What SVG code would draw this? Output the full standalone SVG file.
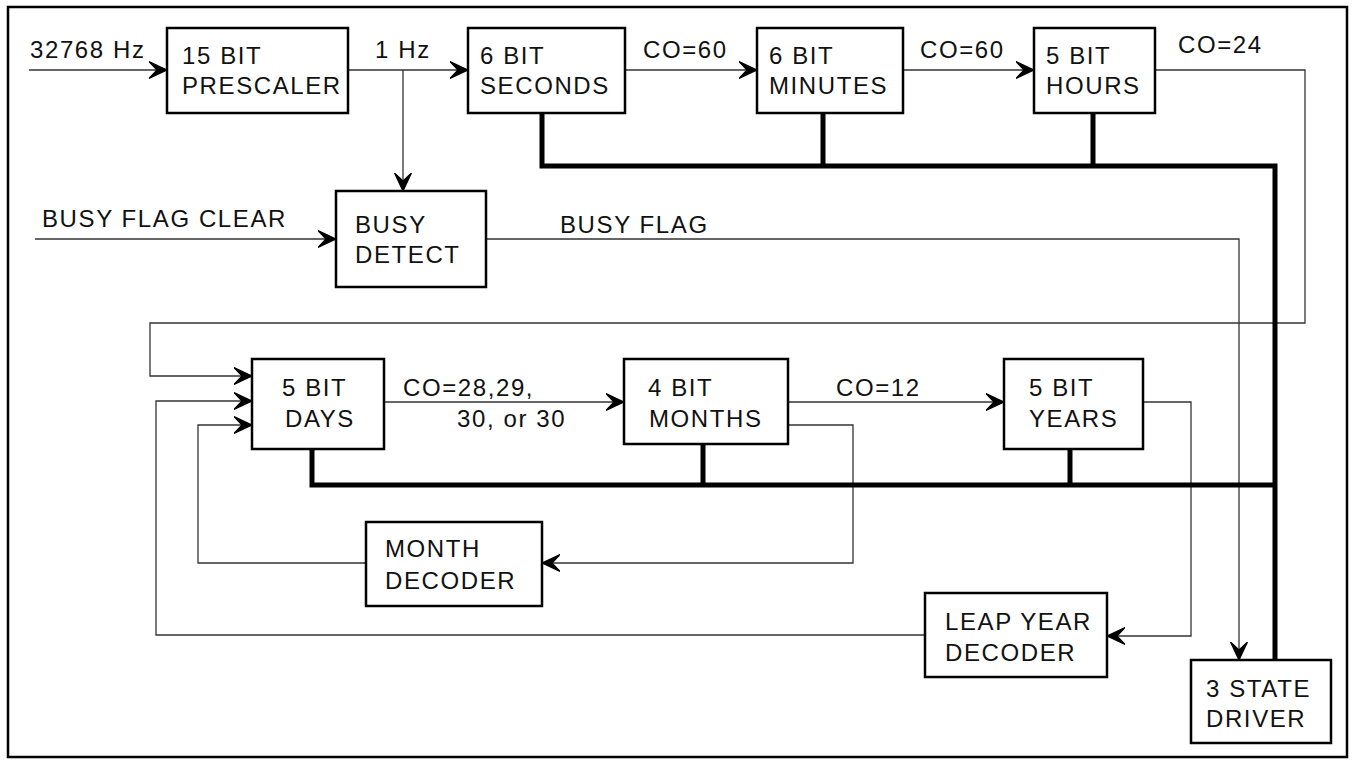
<svg xmlns="http://www.w3.org/2000/svg" width="1354" height="763" viewBox="0 0 1354 763">
<style>
.box{fill:#fff;stroke:#000;stroke-width:2.5}
.t{font-family:"Liberation Sans",Arial,sans-serif;font-size:24px;letter-spacing:1.6px;fill:#111}
.w{fill:none;stroke:#333;stroke-width:1.3}
.bus{fill:none;stroke:#000;stroke-width:5;stroke-linejoin:miter}
</style>
<defs>
<marker id="arr" markerWidth="20" markerHeight="20" markerUnits="userSpaceOnUse" refX="18" refY="10" orient="auto">
<path d="M18,10 L0,1.5 L8,10 L0,18.5 Z" fill="#000" stroke="#000" stroke-width="1.2" stroke-linejoin="miter"/>
</marker>
</defs>
<rect x="0" y="0" width="1354" height="763" fill="#fff"/>
<rect x="8" y="7" width="1339" height="750" fill="none" stroke="#000" stroke-width="2.5"/>

<g id="connectors">
<path class="w" d="M29,70 H167" marker-end="url(#arr)"/>
<path class="w" d="M348,70 H468" marker-end="url(#arr)"/>
<path class="w" d="M403,70 V191" marker-end="url(#arr)"/>
<path class="w" d="M625,70 H757" marker-end="url(#arr)"/>
<path class="w" d="M903,70 H1034" marker-end="url(#arr)"/>
<path class="w" d="M1155,70 H1305 V323 H150 V376 H252" marker-end="url(#arr)"/>
<path class="w" d="M35,239 H336" marker-end="url(#arr)"/>
<path class="w" d="M486,239 H1239 V660" marker-end="url(#arr)"/>
<path class="w" d="M384,402 H624" marker-end="url(#arr)"/>
<path class="w" d="M788,402 H1004" marker-end="url(#arr)"/>
<path class="w" d="M788,425 H853 V563 H542" marker-end="url(#arr)"/>
<path class="w" d="M366,563 H198 V425 H252" marker-end="url(#arr)"/>
<path class="w" d="M1143,402 H1191 V636 H1107" marker-end="url(#arr)"/>
<path class="w" d="M925,635 H156 V401 H252" marker-end="url(#arr)"/>
<path class="bus" d="M542,112 V166 H1275 V660"/>
<path class="bus" d="M823,112 V166"/>
<path class="bus" d="M1093,112 V166"/>
<path class="bus" d="M312,449 V485 H1275"/>
<path class="bus" d="M703,444 V485"/>
<path class="bus" d="M1070,449 V485"/>
</g>

<g id="labels">
<text class="t" x="30" y="58">32768 Hz</text>
<text class="t" x="375" y="58">1 Hz</text>
<text class="t" x="643" y="58">CO=60</text>
<text class="t" x="920" y="58">CO=60</text>
<text class="t" x="1178" y="53">CO=24</text>
<text class="t" x="42" y="227">BUSY FLAG CLEAR</text>
<text class="t" x="560" y="233">BUSY FLAG</text>
<text class="t" x="403" y="396">CO=28,29,</text>
<text class="t" x="457" y="427">30, or 30</text>
<text class="t" x="836" y="396">CO=12</text>
</g>

<g id="prescaler">
<rect class="box" x="167" y="28" width="181" height="85"/>
<text class="t" x="182" y="64">15 BIT</text>
<text class="t" x="182" y="94">PRESCALER</text>
</g>
<g id="seconds">
<rect class="box" x="468" y="28" width="157" height="85"/>
<text class="t" x="480" y="64">6 BIT</text>
<text class="t" x="480" y="94">SECONDS</text>
</g>
<g id="minutes">
<rect class="box" x="757" y="28" width="146" height="85"/>
<text class="t" x="769" y="64">6 BIT</text>
<text class="t" x="769" y="94">MINUTES</text>
</g>
<g id="hours">
<rect class="box" x="1034" y="28" width="121" height="85"/>
<text class="t" x="1046" y="64">5 BIT</text>
<text class="t" x="1046" y="94">HOURS</text>
</g>
<g id="busy-detect">
<rect class="box" x="336" y="191" width="150" height="96"/>
<text class="t" x="355" y="233">BUSY</text>
<text class="t" x="355" y="263">DETECT</text>
</g>
<g id="days">
<rect class="box" x="252" y="359" width="132" height="90"/>
<text class="t" x="282" y="396">5 BIT</text>
<text class="t" x="285" y="427">DAYS</text>
</g>
<g id="months">
<rect class="box" x="624" y="359" width="164" height="85"/>
<text class="t" x="648" y="396">4 BIT</text>
<text class="t" x="649" y="427">MONTHS</text>
</g>
<g id="years">
<rect class="box" x="1004" y="359" width="139" height="90"/>
<text class="t" x="1029" y="396">5 BIT</text>
<text class="t" x="1029" y="427">YEARS</text>
</g>
<g id="month-decoder">
<rect class="box" x="366" y="522" width="176" height="84"/>
<text class="t" x="385" y="557">MONTH</text>
<text class="t" x="385" y="589">DECODER</text>
</g>
<g id="leap-year-decoder">
<rect class="box" x="925" y="593" width="182" height="84"/>
<text class="t" x="945" y="630">LEAP YEAR</text>
<text class="t" x="945" y="661">DECODER</text>
</g>
<g id="three-state-driver">
<rect class="box" x="1191" y="660" width="140" height="83"/>
<text class="t" x="1206" y="697">3 STATE</text>
<text class="t" x="1206" y="727">DRIVER</text>
</g>
</svg>
